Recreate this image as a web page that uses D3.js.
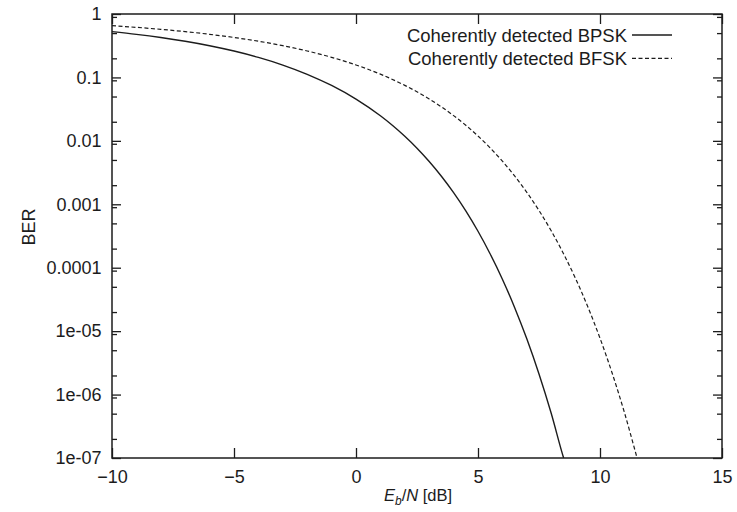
<!DOCTYPE html>
<html>
<head>
<meta charset="utf-8">
<script src="https://cdn.jsdelivr.net/npm/d3@7"></script>
<style>
  body { margin: 0; background: #fff; }
  svg { display: block; font-family: "Liberation Sans", Arial, sans-serif; }
</style>
</head>
<body>
<div id="root"></div>
<script>
// Eb/N [dB] and BER
const ebnoBpsk = [-10, -9, -8, -7, -6, -5, -4, -3, -2, -1, 0, 1, 1.5, 2, 2.5, 3, 3.5, 4, 4.5, 5, 5.5, 6, 6.5, 7, 7.5, 8, 8.5, 8.51];
const berBpsk = [0.5271, 0.4779, 0.4259, 0.3717, 0.3162, 0.2607, 0.2070, 0.1568, 0.1121, 0.07467, 0.0455, 0.02483, 0.01745, 0.01181,
  0.007653, 0.004727, 0.002768, 0.001526, 0.000787, 0.0003758, 0.0001648, 6.59e-5, 2.368e-5, 7.556e-6, 2.108e-6, 5.068e-7, 1.029e-7, 1.0e-7];

const ebnoBfsk = [-10, -9, -8, -7, -6, -5, -4, -3, -2, -1, 0, 1, 2, 3, 4, 4.5, 5, 5.5, 6, 6.5, 7, 7.5, 8, 8.5, 9, 9.5, 10, 10.5, 11, 11.5, 11.52];
const berBfsk = [0.6547, 0.6158, 0.5734, 0.5276, 0.4785, 0.4265, 0.3722, 0.3167, 0.2613, 0.2075, 0.1573, 0.1126, 0.0750, 0.04576, 0.0250,
  0.01759, 0.01191, 0.007726, 0.004777, 0.0028, 0.001546, 0.0007977, 0.0003818, 0.0001678, 6.727e-5, 2.421e-5, 7.746e-6, 2.168e-6, 5.226e-7, 1.066e-7, 1.0e-7];

const xTicks = [-10, -5, 0, 5, 10, 15];
const yTicks = [1e-7, 1e-6, 1e-5, 1e-4, 1e-3, 1e-2, 1e-1, 1];
const yTickLabels = ["1e-07", "1e-06", "1e-05", "0.0001", "0.001", "0.01", "0.1", "1"];
const minorMults = [2, 5, 9];

const seriesNames = ["Coherently detected BPSK", "Coherently detected BFSK"];

const width = 737, height = 512;
const margin = { top: 14, right: 15, bottom: 54, left: 112 };
const ink = "#1c1c1c";

const x = d3.scaleLinear().domain([-10, 15]).range([margin.left, width - margin.right]);
const y = d3.scaleLog().domain([1e-7, 1]).range([height - margin.bottom, margin.top]);

const svg = d3.select("#root").append("svg")
  .attr("width", width)
  .attr("height", height);

// minor ticks at 2,5,9 x 10^k
const minorTicks = [];
yTicks.slice(0, -1).forEach(d => minorMults.forEach(m => minorTicks.push(d * m)));

const styleAxis = g => {
  g.select(".domain").remove();
  g.selectAll("line").attr("stroke", ink).attr("stroke-width", 1.3);
  g.selectAll("text").attr("fill", ink).attr("font-size", 18);
};

// bottom / top
svg.append("g")
  .attr("transform", "translate(0," + (height - margin.bottom) + ")")
  .call(d3.axisBottom(x).tickValues(xTicks).tickSizeInner(-10).tickSizeOuter(0).tickPadding(12))
  .call(styleAxis);

svg.append("g")
  .attr("transform", "translate(0," + margin.top + ")")
  .call(d3.axisTop(x).tickValues(xTicks).tickSizeInner(-10).tickSizeOuter(0).tickFormat(""))
  .call(styleAxis);

// left / right
svg.append("g")
  .attr("transform", "translate(" + margin.left + ",0)")
  .call(d3.axisLeft(y).tickValues(yTicks).tickSizeInner(-9).tickSizeOuter(0).tickPadding(10.5)
    .tickFormat((d, i) => yTickLabels[i]))
  .call(styleAxis);

svg.append("g")
  .attr("transform", "translate(" + margin.left + ",0)")
  .call(d3.axisLeft(y).tickValues(minorTicks).tickSizeInner(-5).tickSizeOuter(0).tickFormat(""))
  .call(styleAxis);

svg.append("g")
  .attr("transform", "translate(" + (width - margin.right) + ",0)")
  .call(d3.axisRight(y).tickValues(yTicks).tickSizeInner(-9).tickSizeOuter(0).tickFormat(""))
  .call(styleAxis);

svg.append("g")
  .attr("transform", "translate(" + (width - margin.right) + ",0)")
  .call(d3.axisRight(y).tickValues(minorTicks).tickSizeInner(-5).tickSizeOuter(0).tickFormat(""))
  .call(styleAxis);

// frame
svg.append("rect")
  .attr("x", margin.left)
  .attr("y", margin.top)
  .attr("width", width - margin.right - margin.left)
  .attr("height", height - margin.bottom - margin.top)
  .attr("fill", "none")
  .attr("stroke", ink)
  .attr("stroke-width", 1.5);

svg.append("clipPath").attr("id", "plot")
  .append("rect")
  .attr("x", margin.left)
  .attr("y", margin.top)
  .attr("width", width - margin.right - margin.left)
  .attr("height", height - margin.bottom - margin.top);

const drawLine = d3.line()
  .x(d => x(d[0]))
  .y(d => y(d[1]))
  .curve(d3.curveMonotoneX);

const series = [
  { data: d3.zip(ebnoBpsk, berBpsk), dash: null, width: 1.4 },
  { data: d3.zip(ebnoBfsk, berBfsk), dash: "4,2.5", width: 1.2 }
];

series.forEach((s, i) => {
  svg.append("path")
    .datum(s.data)
    .attr("clip-path", "url(#plot)")
    .attr("d", drawLine)
    .attr("fill", "none")
    .attr("stroke", ink)
    .attr("stroke-width", s.width)
    .attr("stroke-dasharray", s.dash);

  // key
  const ly = 35 + i * 23.3;
  svg.append("text")
    .attr("x", 627)
    .attr("y", ly)
    .attr("dy", "0.36em")
    .attr("text-anchor", "end")
    .attr("font-size", 18.5)
    .attr("fill", ink)
    .text(seriesNames[i]);
  svg.append("line")
    .attr("x1", 632).attr("x2", 672)
    .attr("y1", ly).attr("y2", ly)
    .attr("stroke", ink)
    .attr("stroke-width", s.width)
    .attr("stroke-dasharray", s.dash);
});

// axis titles
svg.append("text")
  .attr("transform", "translate(35," + 227 + ") rotate(-90)")
  .attr("text-anchor", "middle")
  .attr("font-size", 18)
  .attr("fill", ink)
  .text("BER");

const xl = svg.append("text")
  .attr("x", 418)
  .attr("y", 501)
  .attr("text-anchor", "middle")
  .attr("font-size", 16.5)
  .attr("fill", ink);
xl.append("tspan").attr("font-style", "italic").text("E");
xl.append("tspan").attr("font-style", "italic").attr("font-size", 12).attr("dy", 4).text("b");
xl.append("tspan").attr("dy", -4).text("/");
xl.append("tspan").attr("font-style", "italic").text("N");
xl.append("tspan").text(" [dB]");
</script>
</body>
</html>
